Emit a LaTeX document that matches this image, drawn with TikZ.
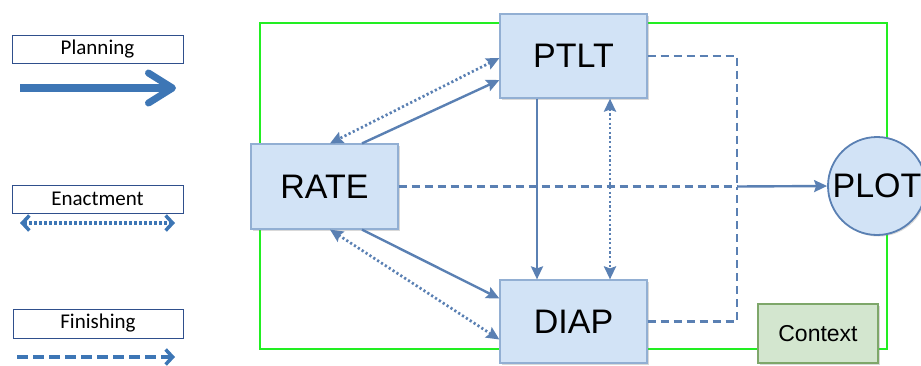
\documentclass[tikz,border=0pt]{standalone}
\usepackage{fontspec}
\setmainfont{Liberation Sans}
\newfontfamily\legendfont{Carlito}
\usetikzlibrary{arrows.meta,calc,shadows}

\definecolor{flowblue}{HTML}{5A80B3}
\definecolor{legblue}{HTML}{3D76B5}
\definecolor{boxfill}{HTML}{D2E3F6}
\definecolor{boxedge}{HTML}{92AFD3}
\definecolor{ctxfill}{HTML}{D3E6CF}
\definecolor{ctxedge}{HTML}{7EA76A}
\definecolor{framegreen}{HTML}{22EE22}
\definecolor{legedge}{HTML}{2F4F8C}

\tikzset{
  procbox/.style={draw=boxedge, fill=boxfill, line width=1.2pt, minimum width=147pt,
    minimum height=84pt, font=\fontsize{34}{37}\selectfont, inner sep=0pt,
    drop shadow={shadow xshift=1.5pt, shadow yshift=-1.5pt, opacity=.3, fill=gray}},
  legbox/.style={draw=legedge, fill=white, line width=1pt, minimum width=171pt,
    minimum height=28pt, inner sep=0pt, font=\legendfont\fontsize{21}{23}\selectfont},
  flow/.style={draw=flowblue, line width=2.4pt},
  headtip/.style={-{Stealth[length=13pt,width=12pt,inset=2pt]}},
  bothtips/.style={{Stealth[length=13pt,width=12pt,inset=2pt]}-{Stealth[length=13pt,width=12pt,inset=2pt]}},
  dotline/.style={flow, line width=2.7pt, dash pattern=on 2.2pt off 2.4pt},
  dashline/.style={flow, line width=2.6pt, dash pattern=on 8pt off 5pt},
  legbarb/.tip={Straight Barb[length=7pt,width=15pt,line width=3.5pt]},
}

\begin{document}
\begin{tikzpicture}[x=1pt,y=-1pt]
\useasboundingbox (0,0) rectangle (921,365);

% outer frame
\draw[framegreen, line width=2.5pt] (260,23) rectangle (887,349);

% process boxes
\node[procbox] (PTLT) at (573.5,56) {PTLT};
\node[procbox, minimum height=83pt] (DIAP) at (573.5,321.5) {DIAP};
\node[procbox, minimum height=85pt] (RATE) at (324.5,186.5) {RATE};
\node[draw=flowblue, fill=boxfill, line width=1.8pt, circle, minimum size=98pt, inner sep=0pt,
  font=\fontsize{34}{37}\selectfont,
  drop shadow={shadow xshift=1.5pt, shadow yshift=-1.5pt, opacity=.3, fill=gray}] (PLOT) at (877,186) {PLOT};
\node[draw=ctxedge, fill=ctxfill, line width=1.4pt, minimum width=120pt, minimum height=59pt,
  inner sep=0pt, font=\fontsize{23}{26}\selectfont,
  drop shadow={shadow xshift=1.5pt, shadow yshift=-1.5pt, opacity=.3, fill=gray}] (CTX) at (818,333.5) {Context};

% planning links
\draw[flow, headtip] ($(RATE.north)+(37.5,0)$) -- ($(PTLT.west)+(0,24)$);
\draw[flow, headtip] ($(RATE.south)+(37.5,0)$) -- ($(DIAP.west)+(0,-23)$);
\draw[flow, headtip] (PTLT.south -| 537,0) -- (DIAP.north -| 537,0);

% enactment links
\draw[dotline, bothtips] ($(PTLT.west)+(0,2)$) -- ($(RATE.north)+(5.5,0)$);
\draw[dotline, bothtips] ($(RATE.south)+(5.5,0)$) -- ($(DIAP.west)+(0,18)$);
\draw[dotline, bothtips] (PTLT.south -| 610,0) -- (DIAP.north -| 610,0);

% finishing links
\coordinate (J) at (737,186.5);
\draw[dashline] (PTLT.east) -| (J);
\draw[dashline] (DIAP.east) -| (J);
\draw[dashline] (RATE.east) -- (J);
\draw[flow, headtip] (J) -- (PLOT.west);

% legend
\node[legbox] (LP) at (97.5,49) {Planning};
\node[legbox] (LE) at (97.5,199) {Enactment};
\node[legbox, minimum width=170pt, minimum height=29pt] (LF) at (98,323.5) {Finishing};

\coordinate (lp1) at (20,88);   \coordinate (lp2) at (176,88);
\coordinate (le1) at (20,223);  \coordinate (le2) at (175,223);
\coordinate (lf1) at (17,357);  \coordinate (lf2) at (175,357);

\draw[draw=legblue, line width=8pt,
  -{Straight Barb[length=24pt,width=30pt,line width=7pt,round]}] (lp1) -- (lp2);
\draw[draw=legblue, line width=3.2pt, dash pattern=on 2.4pt off 2.6pt,
  legbarb-legbarb] (le1) -- (le2);
\draw[draw=legblue, line width=4.5pt, dash pattern=on 11pt off 5pt,
  -legbarb] (lf1) -- (lf2);
\end{tikzpicture}
\end{document}
